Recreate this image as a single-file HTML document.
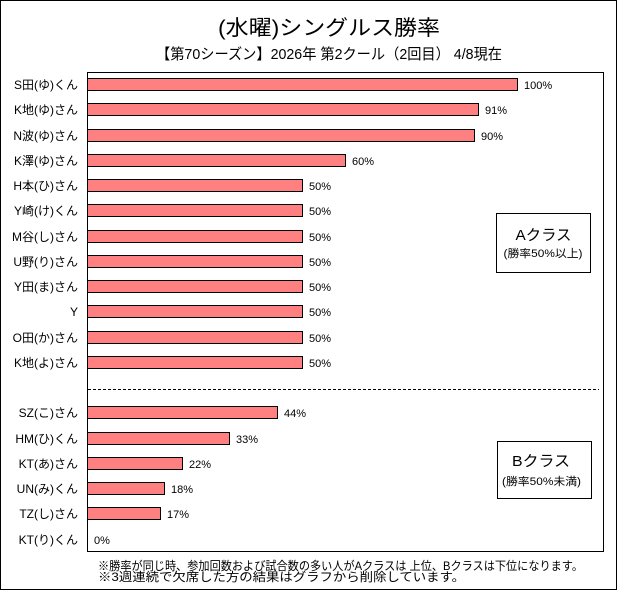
<!DOCTYPE html>
<html><head><meta charset="utf-8"><style>
html,body{margin:0;padding:0;background:#fff;}
svg{display:block;}
text{font-family:"Liberation Sans","Noto Sans CJK JP",sans-serif;fill:#000;}
</style></head><body>
<svg width="618" height="591" viewBox="0 0 618 591" xmlns="http://www.w3.org/2000/svg">
<rect x="0" y="0" width="618" height="591" fill="#fff"/>
<rect x="0.5" y="0.5" width="616" height="589" fill="none" stroke="#000" stroke-width="1"/>
<text x="329" y="35" font-size="21" text-anchor="middle" textLength="222" lengthAdjust="spacingAndGlyphs">(水曜)シングルス勝率</text>
<text x="329" y="59" font-size="15" text-anchor="middle" textLength="346" lengthAdjust="spacingAndGlyphs">【第70シーズン】2026年 第2クール（2回目） 4/8現在</text>
<rect x="87.5" y="72.5" width="516" height="479" fill="#fff" stroke="#000" stroke-width="1"/>
<g stroke="#000" stroke-width="1" fill="#FF8080">
<rect x="87.5" y="78.5" width="430" height="12"/>
<rect x="87.5" y="103.5" width="391" height="12"/>
<rect x="87.5" y="129.5" width="387" height="12"/>
<rect x="87.5" y="154.5" width="258" height="12"/>
<rect x="87.5" y="179.5" width="215" height="12"/>
<rect x="87.5" y="204.5" width="215" height="12"/>
<rect x="87.5" y="230.5" width="215" height="12"/>
<rect x="87.5" y="255.5" width="215" height="12"/>
<rect x="87.5" y="280.5" width="215" height="12"/>
<rect x="87.5" y="305.5" width="215" height="12"/>
<rect x="87.5" y="331.5" width="215" height="12"/>
<rect x="87.5" y="356.5" width="215" height="12"/>
<rect x="87.5" y="406.5" width="190" height="12"/>
<rect x="87.5" y="432.5" width="142" height="12"/>
<rect x="87.5" y="457.5" width="95" height="12"/>
<rect x="87.5" y="482.5" width="77" height="12"/>
<rect x="87.5" y="507.5" width="73" height="12"/>
</g>
<line x1="88" y1="389.5" x2="599" y2="389.5" stroke="#000" stroke-width="1" stroke-dasharray="3 2"/>
<g font-size="12" text-anchor="end">
<text x="78" y="89">S田(ゆ)くん</text>
<text x="78" y="114">K地(ゆ)さん</text>
<text x="78" y="140">N波(ゆ)さん</text>
<text x="78" y="165">K澤(ゆ)さん</text>
<text x="78" y="190">H本(ひ)さん</text>
<text x="78" y="215">Y崎(け)くん</text>
<text x="78" y="241">M谷(し)さん</text>
<text x="78" y="266">U野(り)さん</text>
<text x="78" y="291">Y田(ま)さん</text>
<text x="78" y="316">Y</text>
<text x="78" y="342">O田(か)さん</text>
<text x="78" y="367">K地(よ)さん</text>
<text x="78" y="417">SZ(こ)さん</text>
<text x="78" y="443">HM(ひ)くん</text>
<text x="78" y="468">KT(あ)さん</text>
<text x="78" y="493">UN(み)くん</text>
<text x="78" y="518">TZ(し)さん</text>
<text x="78" y="544">KT(り)くん</text>
</g>
<g font-size="11">
<text x="524" y="89">100%</text>
<text x="485" y="114">91%</text>
<text x="481" y="140">90%</text>
<text x="352" y="165">60%</text>
<text x="309" y="190">50%</text>
<text x="309" y="215">50%</text>
<text x="309" y="241">50%</text>
<text x="309" y="266">50%</text>
<text x="309" y="291">50%</text>
<text x="309" y="316">50%</text>
<text x="309" y="342">50%</text>
<text x="309" y="367">50%</text>
<text x="284" y="417">44%</text>
<text x="236" y="443">33%</text>
<text x="189" y="468">22%</text>
<text x="171" y="493">18%</text>
<text x="167" y="518">17%</text>
<text x="94" y="544">0%</text>
</g>
<rect x="496.5" y="213.5" width="94" height="59" fill="#fff" stroke="#000" stroke-width="1"/>
<text x="543.5" y="240" font-size="15" text-anchor="middle" textLength="56" lengthAdjust="spacingAndGlyphs">Aクラス</text>
<text x="543" y="257" font-size="11" text-anchor="middle" textLength="79" lengthAdjust="spacingAndGlyphs">(勝率50%以上)</text>
<rect x="497.5" y="441.5" width="94" height="57" fill="#fff" stroke="#000" stroke-width="1"/>
<text x="541" y="466" font-size="15" text-anchor="middle" textLength="58" lengthAdjust="spacingAndGlyphs">Bクラス</text>
<text x="541.5" y="485" font-size="11" text-anchor="middle" textLength="79" lengthAdjust="spacingAndGlyphs">(勝率50%未満)</text>
<text x="98" y="570" font-size="12" textLength="485" lengthAdjust="spacingAndGlyphs">※勝率が同じ時、参加回数および試合数の多い人がAクラスは 上位、Bクラスは下位になります。</text>
<text x="98" y="581" font-size="12" textLength="367" lengthAdjust="spacingAndGlyphs">※3週連続で欠席した方の結果はグラフから削除しています。</text>
</svg>
</body></html>
